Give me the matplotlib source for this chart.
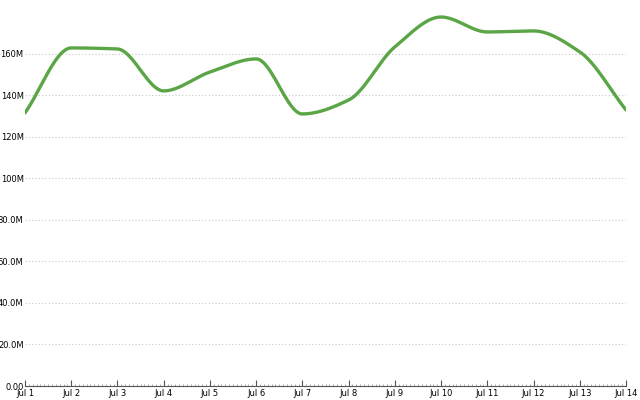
#!/usr/bin/env python3

import numpy as np
import pandas as pd
import matplotlib
matplotlib.use("Agg")
import matplotlib.pyplot as plt
import matplotlib.dates as mdates
from matplotlib.ticker import FuncFormatter


dates = pd.date_range("2023-07-01", "2023-07-14", freq="D")
values = [131.6, 162.9, 162.4, 142.2, 151.3, 157.6, 131.1,
          137.8, 163.4, 177.8, 170.6, 171.1, 161.0, 133.0]  # millions


def monotone_curve(x, y, n=40):
    # Fritsch-Carlson monotone cubic, just to draw a smooth line through the points
    x = np.asarray(x, float)
    y = np.asarray(y, float)
    h = np.diff(x)
    d = np.diff(y) / h
    m = np.zeros_like(y)
    m[0], m[-1] = d[0], d[-1]
    for i in range(1, len(y) - 1):
        if d[i - 1] * d[i] <= 0:
            m[i] = 0
        else:
            w1 = 2 * h[i] + h[i - 1]
            w2 = h[i] + 2 * h[i - 1]
            m[i] = (w1 + w2) / (w1 / d[i - 1] + w2 / d[i])
    xs, ys = [], []
    for i in range(len(x) - 1):
        t = np.linspace(0, 1, n, endpoint=(i == len(x) - 2))
        h00 = 2 * t**3 - 3 * t**2 + 1
        h10 = t**3 - 2 * t**2 + t
        h01 = -2 * t**3 + 3 * t**2
        h11 = t**3 - t**2
        xs.append(x[i] + t * h[i])
        ys.append(h00 * y[i] + h10 * h[i] * m[i] + h01 * y[i + 1] + h11 * h[i] * m[i + 1])
    return np.concatenate(xs), np.concatenate(ys)


def fmt_y(v, pos):
    if v == 0:
        return "0.00"
    m = v / 1e6
    if m < 100:
        return "%.1fM" % m
    return "%dM" % m


x_num = mdates.date2num(dates)
y_vals = np.array(values) * 1e6
xs, ys = monotone_curve(x_num, y_vals)

fig = plt.figure(figsize=(6.4, 4.0), dpi=100)
ax = fig.add_axes([25 / 640, 14 / 400, 601 / 640, 386 / 400])

ax.plot(xs, ys, color="#5aa545", lw=2.4, solid_capstyle="round")

ax.set_xlim(x_num[0], x_num[-1])
ax.set_ylim(0, 186e6)
ax.set_yticks(np.arange(0, 161e6, 20e6))
ax.yaxis.set_major_formatter(FuncFormatter(fmt_y))
ax.grid(axis="y", color="#c8c8c8", linestyle=(0, (1, 2)), lw=0.8)

ax.xaxis.set_major_locator(mdates.DayLocator())
ax.xaxis.set_minor_locator(mdates.HourLocator(interval=2))
ax.xaxis.set_major_formatter(FuncFormatter(
    lambda v, pos: "Jul %d" % mdates.num2date(v).day))

for side in ["top", "right", "left"]:
    ax.spines[side].set_visible(False)
ax.spines["bottom"].set_color("#555555")
ax.spines["bottom"].set_linewidth(0.8)

ax.tick_params(axis="y", length=0, labelsize=6, pad=1)
ax.tick_params(axis="x", which="major", direction="in", length=4,
               labelsize=6, pad=2.5, color="#555555")
ax.tick_params(axis="x", which="minor", direction="in", length=1.5,
               color="#888888", width=0.5)

fig.savefig("out.png", dpi=100)
